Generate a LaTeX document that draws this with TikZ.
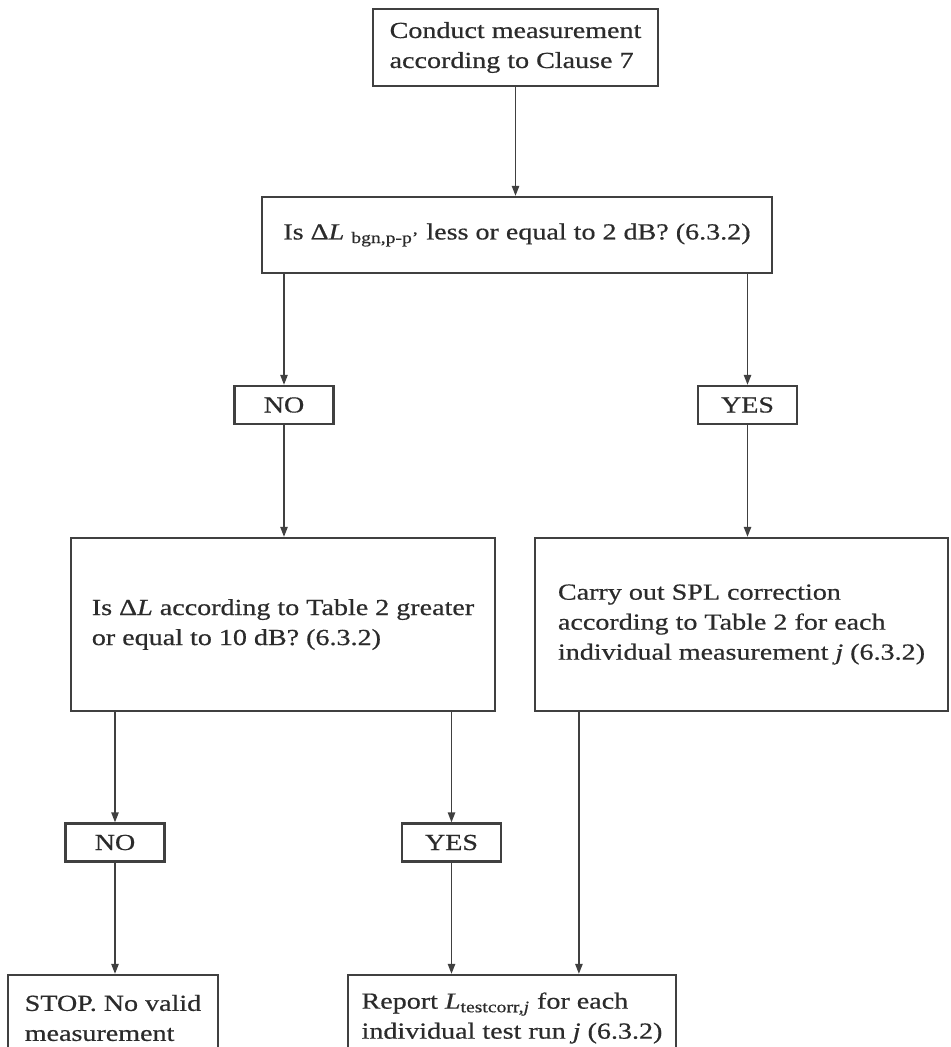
\documentclass[tikz,border=0pt]{standalone}
\usepackage{fontspec}
\setmainfont{Liberation Serif}[FakeStretch=1.22,FakeBold=0.6]
\usetikzlibrary{arrows.meta}
\definecolor{ink}{HTML}{2B2B2B}
\definecolor{rule}{HTML}{404040}

\begin{document}
\begin{tikzpicture}[x=0.5pt,y=-0.5pt,
    box/.style={draw=rule,line width=1.1pt,text=ink,align=left,inner sep=0pt,
      font=\fontsize{11.5}{15}\selectfont},
    ans/.style={box,minimum width=49.5pt,minimum height=19pt},
    link/.style={draw=rule,line width=0.9pt,-{Triangle[length=5pt,width=3.6pt]}}]
        \useasboundingbox (0,0) rectangle (950,1047);
        \clip (0,0) rectangle (950,1047);
      \node[box,minimum width=142.5pt,minimum height=38.5pt] (meas) at (515.5,47.5)
          {Conduct measurement\\according to Clause 7};
      \node[box,align=center,minimum width=255pt,minimum height=38pt] (bgn) at (517,235)
          {Is Δ\textit{L}~\textsubscript{bgn,p-p'} less or equal to 2 dB? (6.3.2)};
      \node[ans] (noA) at (284,405) {NO};
      \node[ans] (yesA) at (747.5,405) {YES};
      \node[box,minimum width=212pt,minimum height=86.5pt] (tab) at (283,624.5)
          {Is Δ\textit{L} according to Table 2 greater\\or equal to 10 dB? (6.3.2)};
      \node[box,minimum width=206.5pt,minimum height=86.5pt] (corr) at (741.5,624.5)
          {Carry out SPL correction\\according to Table 2 for each\\individual measurement \textit{j} (6.3.2)};
      \node[ans] (noB) at (115,842.5) {NO};
      \node[ans] (yesB) at (451.5,842.5) {YES};
      \node[box,minimum width=105pt,minimum height=43pt] (stop) at (113,1018)
          {STOP. No valid\\measurement};
      \node[box,minimum width=164pt,minimum height=43pt] (rep) at (512,1018)
          {Report \textit{L}\textsubscript{testcorr,\textit{j}} for each\\individual test run \textit{j} (6.3.2)};
      \path (corr.south west) ++(45,0) coordinate (corrout);
        \draw[link] (meas.south) -- (meas.south |- bgn.north);
        \draw[link] (noA |- bgn.south) -- (noA.north);
        \draw[link] (yesA |- bgn.south) -- (yesA.north);
        \draw[link] (noA.south) -- (noA.south |- tab.north);
        \draw[link] (yesA.south) -- (yesA.south |- corr.north);
        \draw[link] (noB |- tab.south) -- (noB.north);
        \draw[link] (yesB |- tab.south) -- (yesB.north);
        \draw[link] (noB.south) -- (noB.south |- stop.north);
        \draw[link] (yesB.south) -- (yesB.south |- rep.north);
        \draw[link] (corrout) -- (corrout |- rep.north);
      \end{tikzpicture}
\end{document}
